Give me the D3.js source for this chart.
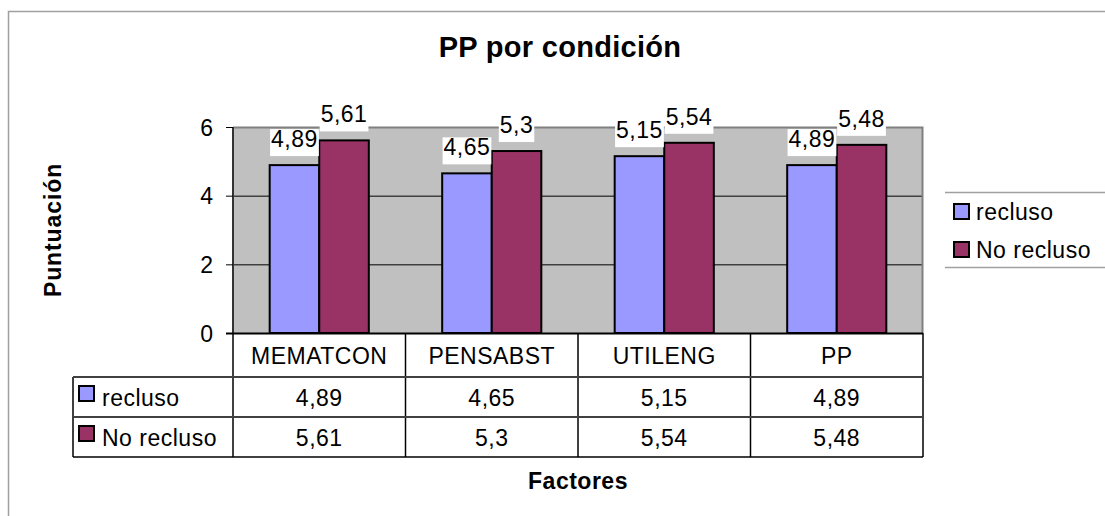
<!DOCTYPE html>
<html><head><meta charset="utf-8">
<script src="https://cdn.jsdelivr.net/npm/d3@7"></script>
<style>
body{margin:0;background:#fff;}
svg text{font-family:"Liberation Sans",Arial,sans-serif;fill:#000;}
</style></head>
<body><svg id="c" width="1105" height="516"></svg>
<script>
const categories = ["MEMATCON","PENSABST","UTILENG","PP"];
const seriesNames = ["recluso","No recluso"];
const recluso = [4.89,4.65,5.15,4.89];
const noRecluso = [5.61,5.3,5.54,5.48];
const yTicks = [0,2,4,6];
const colors = ["#9999FF","#993366"];
const title = "PP por condición";
const xTitle = "Factores";
const yTitle = "Puntuación";

const fmt = v => String(v).replace(".", ",");
const series = [recluso, noRecluso];
const svg = d3.select("#c");
const L = 233, R = 923, T = 127, B = 333;
const FS = "23px", LS = "0.5px";

// outer frame
svg.append("rect").attr("x",8.5).attr("y",11.5).attr("width",1200).attr("height",600)
  .attr("fill","none").attr("stroke","#a0a0a0").attr("stroke-width",1.5);

const x = d3.scaleBand().domain(categories).range([L,R]).paddingInner(0).paddingOuter(0);
const y = d3.scaleLinear().domain([0,6]).range([B,T]);
const xs = d3.scaleBand().domain(seriesNames).range([0,x.bandwidth()]).paddingInner(0).paddingOuter(0.74);

// plot background
svg.append("rect").attr("x",L).attr("y",T).attr("width",R-L).attr("height",B-T).attr("fill","#C0C0C0");
// gridlines
svg.append("g").selectAll("line").data(yTicks.filter(t=>t>0 && t<6)).join("line")
  .attr("x1",L).attr("x2",R).attr("y1",d=>y(d)+0.5).attr("y2",d=>y(d)+0.5)
  .attr("stroke","#000").attr("stroke-width",1);
// plot border (top/right gray)
svg.append("path").attr("d",`M${L},${T+0.5}H${R-0.5}V${B}`).attr("fill","none").attr("stroke","#808080").attr("stroke-width",2);

// bars
const g = svg.append("g");
categories.forEach((c,i)=>{
  series.forEach((s,j)=>{
    g.append("rect").attr("x",x(c)+xs(seriesNames[j])).attr("y",y(s[i]))
      .attr("width",xs.bandwidth()).attr("height",y(0)-y(s[i]))
      .attr("fill",colors[j]).attr("stroke","#000").attr("stroke-width",2);
  });
});

// y axis
const ya = svg.append("g").attr("transform",`translate(${L},0)`)
  .call(d3.axisLeft(y).tickValues(yTicks).tickSize(7).tickPadding(13).tickFormat(d=>d));
ya.select(".domain").attr("stroke","#333").attr("stroke-width",2).attr("d",`M0,${T}V${B}`);
ya.selectAll(".tick line").attr("stroke","#000");
ya.selectAll(".tick text").style("font-size",FS).attr("dy","0.36em");

// data labels
categories.forEach((c,i)=>{
  series.forEach((s,j)=>{
    const cx = x(c)+xs(seriesNames[j])+xs.bandwidth()/2;
    const by = y(s[i]) - 18;
    const t = svg.append("text").attr("x",cx).attr("y",by).attr("text-anchor","middle")
      .style("font-size",FS).style("letter-spacing",LS).text(fmt(s[i]));
    const bb = t.node().getBBox();
    svg.insert("rect", () => t.node()).attr("x",bb.x-1).attr("y",bb.y+3).attr("width",bb.width+2).attr("height",bb.height+1).attr("fill","#fff");
  });
});

// x axis line
svg.append("line").attr("x1",L-7).attr("x2",R).attr("y1",B+0.5).attr("y2",B+0.5).attr("stroke","#000").attr("stroke-width",2);

// data table
const rowTop = [B, 377, 417, 457];
const tb = svg.append("g");
const tl = "#000";
categories.concat(["_end"]).forEach((c,i)=>{
  const xx = i<categories.length ? x(c) : R;
  tb.append("line").attr("x1",xx).attr("x2",xx).attr("y1",B).attr("y2",rowTop[3]).attr("stroke",tl).attr("stroke-width",1.5);
});
tb.append("line").attr("x1",73).attr("x2",73).attr("y1",rowTop[1]).attr("y2",rowTop[3]).attr("stroke",tl).attr("stroke-width",1.5);
[1,2,3].forEach(k=>{
  tb.append("line").attr("x1",73).attr("x2",R).attr("y1",rowTop[k]).attr("y2",rowTop[k])
    .attr("stroke",k===3?"#000":"#404040").attr("stroke-width",k===3?1.5:2);
});
categories.forEach(c=>{
  tb.append("text").attr("x",x(c)+x.bandwidth()/2).attr("y",364).attr("text-anchor","middle")
    .style("font-size",FS).style("letter-spacing",LS).text(c);
});
series.forEach((s,j)=>{
  const base = [406,446][j];
  tb.append("rect").attr("x",79).attr("y",base-20).attr("width",15).attr("height",15)
    .attr("fill",colors[j]).attr("stroke","#000").attr("stroke-width",2);
  tb.append("text").attr("x",102).attr("y",base).style("font-size",FS).style("letter-spacing",LS).text(seriesNames[j]);
  categories.forEach((c,i)=>{
    tb.append("text").attr("x",x(c)+x.bandwidth()/2).attr("y",base).attr("text-anchor","middle")
      .style("font-size",FS).style("letter-spacing",LS).text(fmt(s[i]));
  });
});

// legend
const lg = svg.append("g");
[192,267].forEach(yy=>lg.append("line").attr("x1",945).attr("x2",1105).attr("y1",yy+0.5).attr("y2",yy+0.5).attr("stroke","#a0a0a0").attr("stroke-width",1.5));
seriesNames.forEach((n,j)=>{
  const base = [220,258][j];
  lg.append("rect").attr("x",954).attr("y",base-16).attr("width",15).attr("height",15)
    .attr("fill",colors[j]).attr("stroke","#000").attr("stroke-width",2);
  lg.append("text").attr("x",976).attr("y",base).style("font-size",FS).style("letter-spacing",LS).text(n);
});

// titles
svg.append("text").attr("x",560).attr("y",57).attr("text-anchor","middle")
  .style("font-size","29px").style("font-weight","bold").style("letter-spacing","0.3px").text(title);
svg.append("text").attr("x",578).attr("y",489).attr("text-anchor","middle")
  .style("font-size",FS).style("font-weight","bold").style("letter-spacing","0.5px").text(xTitle);
svg.append("text").attr("transform","translate(61,230) rotate(-90)").attr("text-anchor","middle")
  .style("font-size",FS).style("font-weight","bold").style("letter-spacing","0.9px").text(yTitle);
</script></body></html>
